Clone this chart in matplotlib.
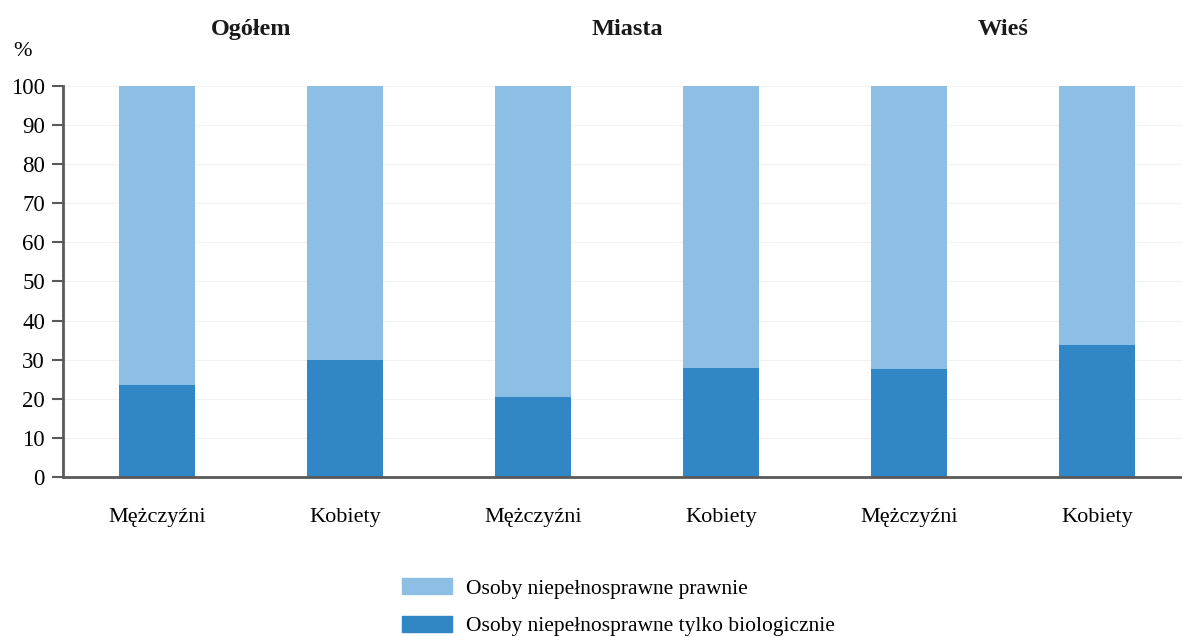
import matplotlib.pyplot as plt
import numpy as np
from matplotlib.patches import Patch

plt.rcParams['font.family'] = ['Liberation Serif', 'DejaVu Serif']

groups = ["Ogółem", "Miasta", "Wieś"]
categories = ["Mężczyźni", "Kobiety", "Mężczyźni", "Kobiety", "Mężczyźni", "Kobiety"]
biologiczne = [23.5, 30.0, 20.5, 27.9, 27.6, 33.8]
prawnie = [100 - v for v in biologiczne]

light = "#8dbee4"
dark = "#3186c5"

fig = plt.figure(figsize=(11.82, 6.37), dpi=100)
ax = fig.add_axes([0.0533, 0.2512, 0.9467, 0.6138])

x = np.arange(len(categories))
ax.bar(x, biologiczne, width=0.404, color=dark, zorder=2)
ax.bar(x, prawnie, width=0.404, bottom=biologiczne, color=light, zorder=2)

ax.set_xlim(-0.5, 5.452)
ax.set_ylim(0, 100)
ax.set_yticks(range(0, 101, 10))
ax.set_xticks(x)
ax.set_xticklabels(categories, fontsize=16)
ax.tick_params(axis='x', length=0, pad=22)
ax.tick_params(axis='y', labelsize=16.5, length=8, width=1.5, color="#595959", pad=5)
ax.yaxis.grid(True, color="#f2f2f2", linewidth=0.8, zorder=0)

for side in ["top", "right"]:
    ax.spines[side].set_visible(False)
for side in ["left", "bottom"]:
    ax.spines[side].set_color("#595959")
    ax.spines[side].set_linewidth(2)

for i, g in enumerate(groups):
    ax.text(2 * i + 0.5, 1.145, g, transform=ax.get_xaxis_transform(),
            ha="center", va="center", fontsize=17.5, fontweight="bold", color="#1a1a1a")

fig.text(22 / 1182, 1 - 52 / 637, "%", ha="center", va="center", fontsize=16)

handles = [Patch(color=light, label="Osoby niepełnosprawne prawnie"),
           Patch(color=dark, label="Osoby niepełnosprawne tylko biologicznie")]
fig.legend(handles=handles, loc="upper left", bbox_to_anchor=(402 / 1182, 1 - 578 / 637),
           frameon=False, fontsize=15.5, handlelength=2.33, handleheight=0.8,
           labelspacing=0.78, handletextpad=0.65, borderpad=0, borderaxespad=0)

fig.savefig("out.png", dpi=100)
